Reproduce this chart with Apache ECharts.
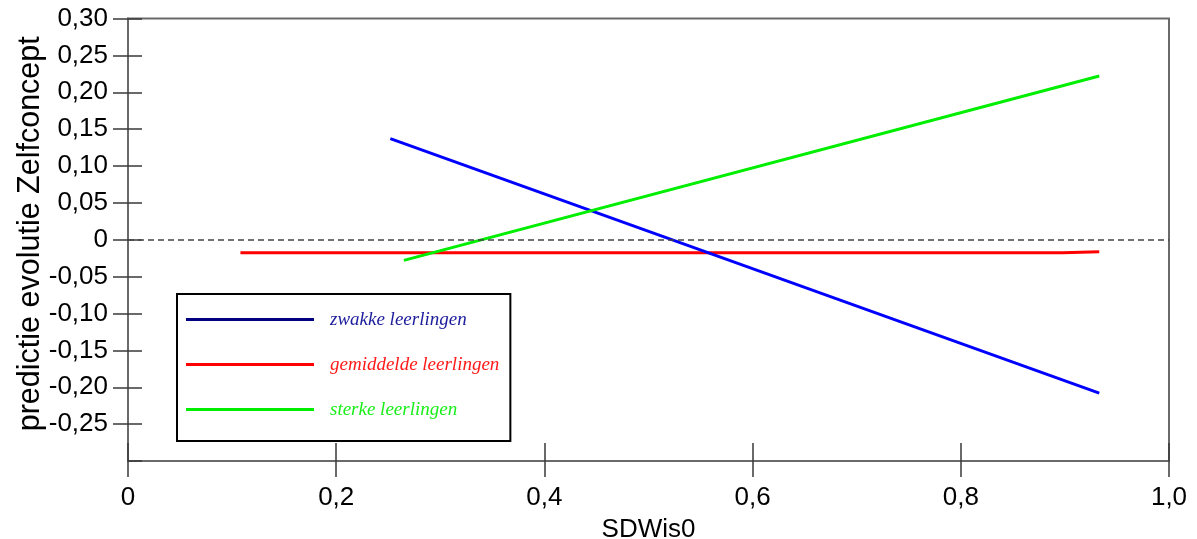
<!DOCTYPE html>
<html>
<head>
<meta charset="utf-8">
<script src="https://cdn.jsdelivr.net/npm/echarts@6/dist/echarts.min.js"></script>
<style>
html,body{margin:0;padding:0;background:#fff;}
#chart{width:1197px;height:539px;}
</style>
</head>
<body>
<div id="chart"></div>
<script>
// ---- data ----
var seriesNames = ['zwakke leerlingen', 'gemiddelde leerlingen', 'sterke leerlingen'];
var zwakkeX = [0.252, 0.933];
var zwakkeY = [0.137, -0.208];
var gemiddeldeX = [0.108, 0.898, 0.899, 0.933];
var gemiddeldeY = [-0.0177, -0.0177, -0.0163, -0.0163];
var sterkeX = [0.265, 0.933];
var sterkeY = [-0.028, 0.222];
var xTickValues = [0, 0.2, 0.4, 0.6, 0.8, 1.0];
var xTickLabels = ['0', '0,2', '0,4', '0,6', '0,8', '1,0'];
var yTickValues = [-0.30, -0.25, -0.20, -0.15, -0.10, -0.05, 0, 0.05, 0.10, 0.15, 0.20, 0.25, 0.30];
var yTickLabels = ['', '-0,25', '-0,20', '-0,15', '-0,10', '-0,05', '0', '0,05', '0,10', '0,15', '0,20', '0,25', '0,30'];
var xAxisName = 'SDWis0';
var yAxisName = 'predictie evolutie Zelfconcept';

function zip(xs, ys) { return xs.map(function (x, i) { return [x, ys[i]]; }); }
function labelFor(values, labels) {
  return function (v) {
    for (var i = 0; i < values.length; i++) {
      if (Math.abs(values[i] - v) < 1e-6) return labels[i];
    }
    return '';
  };
}
// outer y ticks only where a label is shown
var yOuterTicks = yTickValues.filter(function (v, i) { return yTickLabels[i] !== ''; });

var axisLineColor = '#6a6a6a';
var tickColor = '#3a3a3a';
var font = 'Liberation Sans, Arial, sans-serif';

var chart = echarts.init(document.getElementById('chart'), null, {renderer: 'canvas'});
chart.setOption({
  animation: false,
  backgroundColor: '#ffffff',
  grid: {
    left: 128, right: 28, top: 18.5, bottom: 78,
    containLabel: false, outerBoundsMode: 'none',
    show: true, borderColor: axisLineColor, borderWidth: 2, backgroundColor: 'transparent'
  },
  legend: {
    orient: 'vertical',
    left: 177, top: 294,
    borderColor: '#000', borderWidth: 2,
    padding: [16, 11, 22, 9],
    itemWidth: 128, itemHeight: 3,
    itemGap: 26,
    icon: 'rect',
    textStyle: {fontFamily: 'Liberation Serif, serif', fontStyle: 'italic', fontSize: 19, padding: [0, 0, 0, 11]},
    data: [
      {name: seriesNames[0], itemStyle: {color: '#000080'}, textStyle: {color: '#1c1c9c'}},
      {name: seriesNames[1], itemStyle: {color: '#ff0000'}, textStyle: {color: '#ff1a1a'}},
      {name: seriesNames[2], itemStyle: {color: '#00ee00'}, textStyle: {color: '#1aee1a'}}
    ]
  },
  xAxis: [{
    type: 'value', min: 0, max: 1, interval: 0.2, position: 'bottom',
    name: xAxisName, nameLocation: 'middle', nameGap: 56, nameMoveOverlap: false,
    nameTextStyle: {fontFamily: font, fontSize: 26, color: '#000'},
    axisLine: {show: true, onZero: false, lineStyle: {color: axisLineColor, width: 2}},
    axisTick: {show: true, inside: false, length: 16, lineStyle: {color: tickColor, width: 1.5}},
    axisLabel: {fontFamily: font, fontSize: 26, color: '#000', margin: 24, formatter: labelFor(xTickValues, xTickLabels)},
    splitLine: {show: false}
  }, {
    type: 'value', min: 0, max: 1, interval: 0.2, position: 'bottom',
    axisLine: {show: false, onZero: false},
    axisTick: {show: true, inside: true, length: 18, lineStyle: {color: tickColor, width: 1.5}},
    axisLabel: {show: false},
    splitLine: {show: false}
  }],
  yAxis: [{
    type: 'value', min: -0.30, max: 0.30, interval: 0.05, position: 'left',
    name: yAxisName, nameLocation: 'middle', nameGap: 82, nameRotate: 90, nameMoveOverlap: false,
    nameTextStyle: {fontFamily: font, fontSize: 30.5, color: '#000', padding: [0, 0, 0, 12]},
    axisLine: {show: true, onZero: false, lineStyle: {color: axisLineColor, width: 2}},
    axisTick: {show: true, inside: false, length: 15, customValues: yOuterTicks, lineStyle: {color: tickColor, width: 1.5}},
    axisLabel: {fontFamily: font, fontSize: 26, color: '#000', margin: 20, formatter: labelFor(yTickValues, yTickLabels)},
    splitLine: {show: false}
  }, {
    type: 'value', min: -0.30, max: 0.30, interval: 0.05, position: 'left',
    axisLine: {show: false, onZero: false},
    axisTick: {show: true, inside: true, length: 14, lineStyle: {color: tickColor, width: 1.5}},
    axisLabel: {show: false},
    splitLine: {show: false}
  }],
  series: [{
    name: seriesNames[0], type: 'line', showSymbol: false, symbol: 'none',
    data: zip(zwakkeX, zwakkeY),
    lineStyle: {color: '#0000ff', width: 3}, itemStyle: {color: '#0000ff'},
    markLine: {
      silent: true, symbol: ['none', 'none'], label: {show: false},
      lineStyle: {color: '#444', width: 1.5, type: [6, 4]},
      data: [{yAxis: 0}]
    },
    z: 3
  }, {
    name: seriesNames[1], type: 'line', showSymbol: false, symbol: 'none',
    data: zip(gemiddeldeX, gemiddeldeY),
    lineStyle: {color: '#ff0000', width: 3}, itemStyle: {color: '#ff0000'},
    z: 2
  }, {
    name: seriesNames[2], type: 'line', showSymbol: false, symbol: 'none',
    data: zip(sterkeX, sterkeY),
    lineStyle: {color: '#00ee00', width: 3}, itemStyle: {color: '#00ee00'},
    z: 4
  }]
});
</script>
</body>
</html>
